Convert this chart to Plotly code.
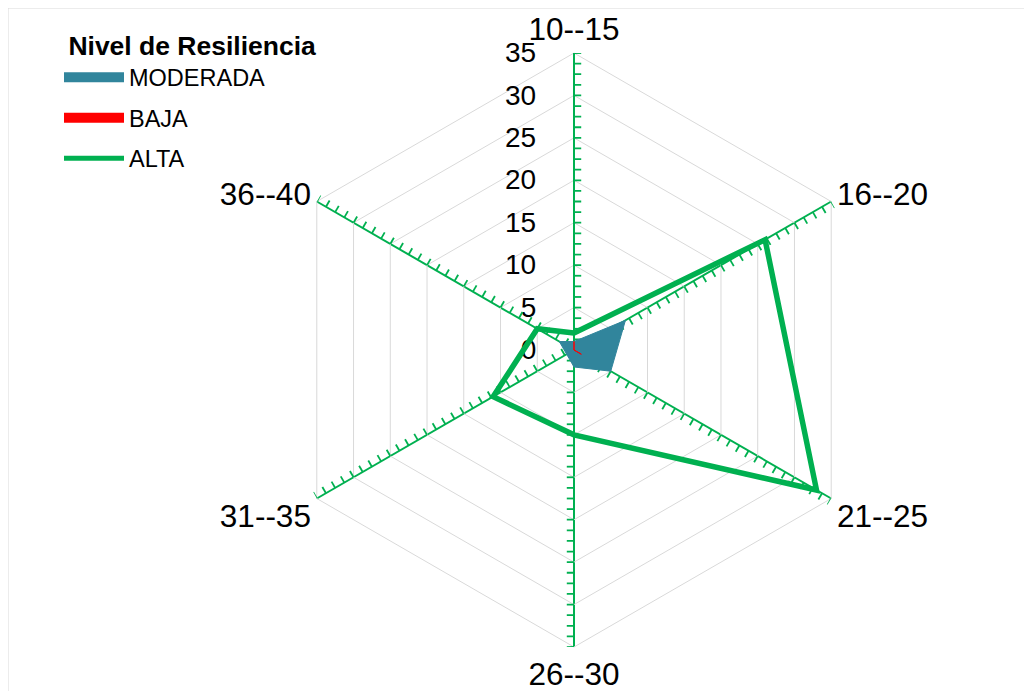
import math
import numpy as np
import plotly.graph_objects as go

# ---- data ----
categories = ["10--15", "16--20", "21--25", "26--30", "31--35", "36--40"]
moderada = [1, 7, 5, 2, 1, 2]
baja = [1, 0, 1, 0, 0, 0]
alta = [2, 26, 33, 10, 11, 5]
radial_ticks = [0, 5, 10, 15, 20, 25, 30, 35]
minor_step = 1.25

W, H = 1032, 691
OFF = 8  # page body margin
CX, CY, R = 574 - OFF, 350 - OFF, 297
dom_x = [(CX - R) / W, (CX + R) / W]
dom_y = [1 - (CY + R) / H, 1 - (CY - R) / H]

GREEN = "#00b050"
TEAL = "#31859c"
RED = "#ff0000"
GRAY = "#d9d9d9"
FONT = "Liberation Sans, Arial, sans-serif"

fig = go.Figure()

# empty trace so the base (grid) polar subplot is drawn
fig.add_trace(go.Scatterpolar(r=[None], theta=[categories[0]], subplot="polar",
                              mode="lines", showlegend=False, hoverinfo="skip"))

# tick marks along every spoke (decoration, polar2, linear angle in degrees)
d = 0.85
tr, tt = [], []
n = len(categories)
for k in range(n):
    phi = k * 360.0 / n
    for r in np.arange(0, radial_ticks[-1] + 1e-9, minor_step):
        tr += [r, math.hypot(r, d), None]
        tt += [phi, phi + math.degrees(math.atan2(d, r)), None]
fig.add_trace(go.Scatterpolar(r=tr, theta=tt, mode="lines", subplot="polar2",
                              line=dict(color=GREEN, width=1.8), showlegend=False,
                              hoverinfo="skip"))

# data (polar3)
cat_closed = categories + [categories[0]]
fig.add_trace(go.Scatterpolar(r=moderada + [moderada[0]], theta=cat_closed, subplot="polar3",
                              mode="lines", fill="toself", fillcolor=TEAL,
                              line=dict(color=TEAL, width=1), name="MODERADA", showlegend=False))
fig.add_trace(go.Scatterpolar(r=baja + [baja[0]], theta=cat_closed, subplot="polar3",
                              mode="lines", fill="toself", fillcolor=RED,
                              line=dict(color=RED, width=1), name="BAJA", showlegend=False))
fig.add_trace(go.Scatterpolar(r=alta + [alta[0]], theta=cat_closed, subplot="polar3",
                              mode="lines", line=dict(color=GREEN, width=5.5), name="ALTA",
                              showlegend=False))

# legend entries
for name, col, w in [("MODERADA", TEAL, 20), ("BAJA", RED, 20), ("ALTA", GREEN, 5)]:
    fig.add_trace(go.Scatterpolar(r=[None], theta=[categories[0]], subplot="polar3", mode="lines",
                                  line=dict(color=col, width=w), name=name,
                                  legendgroup=name, showlegend=True))

fig.update_layout(
    width=W, height=H,
    margin=dict(l=0, r=0, t=0, b=0),
    paper_bgcolor="white",
    font=dict(family=FONT, color="black"),
    polar=dict(
        domain=dict(x=dom_x, y=dom_y),
        gridshape="linear",
        bgcolor="white",
        angularaxis=dict(type="category", categoryarray=categories, direction="clockwise",
                         rotation=90, showline=True, linecolor=GRAY, linewidth=1,
                         showgrid=True, gridcolor=GREEN, gridwidth=2, ticks="",
                         tickfont=dict(size=31.5, family=FONT)),
        radialaxis=dict(range=[0, radial_ticks[-1]], tickmode="array", tickvals=radial_ticks,
                        showgrid=True, gridcolor=GRAY, gridwidth=1, showline=True,
                        linecolor=GREEN, linewidth=2, angle=90, side="counterclockwise",
                        ticks="outside", ticklen=27, tickcolor="rgba(0,0,0,0)",
                        tickfont=dict(size=28, family=FONT), tickangle=90),
    ),
    polar2=dict(
        domain=dict(x=dom_x, y=dom_y),
        bgcolor="rgba(0,0,0,0)",
        angularaxis=dict(type="linear", thetaunit="degrees", direction="clockwise",
                         rotation=90, visible=False),
        radialaxis=dict(range=[0, radial_ticks[-1]], visible=False),
    ),
    polar3=dict(
        domain=dict(x=dom_x, y=dom_y),
        gridshape="linear",
        bgcolor="rgba(0,0,0,0)",
        angularaxis=dict(type="category", categoryarray=categories, direction="clockwise",
                         rotation=90, visible=False),
        radialaxis=dict(range=[0, radial_ticks[-1]], visible=False),
    ),
    legend=dict(
        x=51 / W, y=1 - 13 / H, xanchor="left", yanchor="top",
        title=dict(text="&nbsp;<b>Nivel de Resiliencia</b>", font=dict(size=26.5, family=FONT)),
        font=dict(size=23.5, family=FONT),
        itemwidth=60, tracegroupgap=7, bgcolor="rgba(0,0,0,0)",
    ),
    shapes=[dict(type="rect", xref="paper", yref="paper", x0=0, x1=1,
                 y0=0, y1=1, line=dict(color=GRAY, width=1))],
)

fig.write_html("out.html")
